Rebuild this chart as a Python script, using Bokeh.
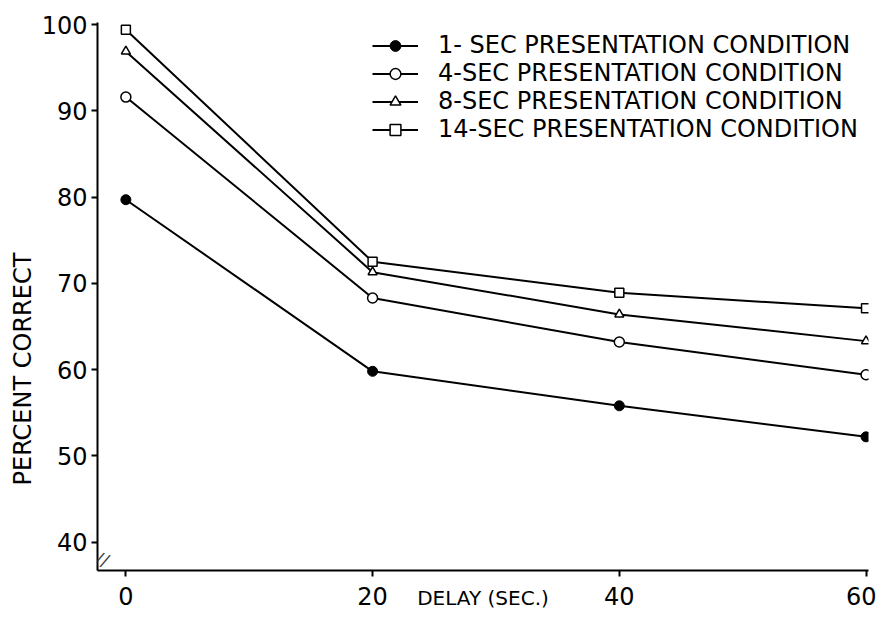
from bokeh.plotting import figure
from bokeh.models import Range1d, Legend, LegendItem, FixedTicker, Label, Title
from bokeh.embed import file_html
from bokeh.resources import INLINE

# Data
delay = [0, 20, 40, 60]
sec1 = [79.7, 59.8, 55.8, 52.2]
sec4 = [91.6, 68.3, 63.2, 59.4]
sec8 = [96.9, 71.3, 66.4, 63.3]
sec14 = [99.4, 72.5, 68.9, 67.1]
series_names = ["1- SEC PRESENTATION CONDITION", "4-SEC PRESENTATION CONDITION",
                "8-SEC PRESENTATION CONDITION", "14-SEC PRESENTATION CONDITION"]
x_ticks = [0, 20, 40, 60]
y_ticks = [40, 50, 60, 70, 80, 90, 100]
x_title = "DELAY (SEC.)"
y_title = "PERCENT CORRECT"

FONT = "DejaVu Sans"

p = figure(width=876, height=616, output_backend="svg", toolbar_location=None,
           x_range=Range1d(-2.3, 60.2), y_range=Range1d(36.7, 100.25),
           min_border_left=97, min_border_right=8, min_border_top=22, min_border_bottom=46)
p.outline_line_color = None
p.xgrid.visible = False
p.ygrid.visible = False
p.background_fill_color = "white"
p.border_fill_color = "white"

for ax in (p.xaxis[0], p.yaxis[0]):
    ax.axis_line_color = "black"
    ax.axis_line_width = 2
    ax.major_tick_line_color = "black"
    ax.major_tick_line_width = 2
    ax.minor_tick_line_color = None
    ax.major_tick_in = 0
    ax.major_tick_out = 6
    ax.major_label_text_font = FONT
    ax.major_label_text_font_size = "24px"
    ax.major_label_text_color = "black"

p.xaxis.ticker = FixedTicker(ticks=x_ticks)
p.yaxis.ticker = FixedTicker(ticks=y_ticks)
p.xaxis.major_label_standoff = 10
p.yaxis.major_label_standoff = 4

p.xaxis.axis_label = x_title
p.xaxis.axis_label_text_font = FONT
p.xaxis.axis_label_text_font_style = "normal"
p.xaxis.axis_label_text_font_size = "20px"
p.xaxis.axis_label_text_color = "black"
p.xaxis.axis_label_standoff = -22

ytitle = Title(text=y_title, align="left", offset=85, text_font=FONT,
               text_font_size="24px", text_font_style="normal", text_color="black",
               standoff=4)
p.add_layout(ytitle, "left")

lw = 2
l1 = p.line(delay, sec1, line_color="black", line_width=lw)
m1 = p.scatter(delay, sec1, marker="circle", size=10, fill_color="black", line_color="black")
l2 = p.line(delay, sec4, line_color="black", line_width=lw)
m2 = p.scatter(delay, sec4, marker="circle", size=10, fill_color="white", line_color="black", line_width=1.5)
l3 = p.line(delay, sec8, line_color="black", line_width=lw)
m3 = p.scatter(delay, sec8, marker="triangle", size=9, fill_color="white", line_color="black", line_width=1.5)
l4 = p.line(delay, sec14, line_color="black", line_width=lw)
m4 = p.scatter(delay, sec14, marker="square", size=9, fill_color="white", line_color="black", line_width=1.5)

# axis break mark
p.add_layout(Label(x=-1.9, y=38.0, text="//", text_font=FONT, text_font_size="18px",
                   text_align="center", text_baseline="middle", angle=-0.4))

legend = Legend(items=[
    LegendItem(label=series_names[0], renderers=[l1, m1]),
    LegendItem(label=series_names[1], renderers=[l2, m2]),
    LegendItem(label=series_names[2], renderers=[l3, m3]),
    LegendItem(label=series_names[3], renderers=[l4, m4]),
], location=(275, 427))
legend.border_line_color = None
legend.background_fill_alpha = 0
legend.label_text_font = FONT
legend.label_text_font_size = "24px"
legend.label_text_color = "black"
legend.glyph_width = 46
legend.glyph_height = 27
legend.label_height = 27
legend.spacing = 0
legend.padding = 0
legend.margin = 0
legend.label_standoff = 20
legend.label_text_baseline = "middle"
p.add_layout(legend)

open("out.html", "w").write(file_html(p, INLINE))
